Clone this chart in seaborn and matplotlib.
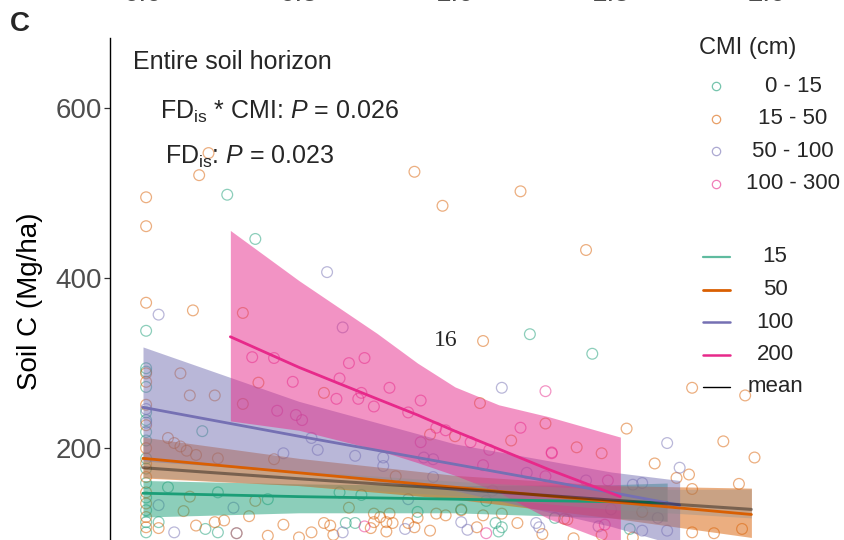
import matplotlib
matplotlib.use("Agg")
import matplotlib.pyplot as plt
from matplotlib.lines import Line2D
import numpy as np
import pandas as pd
import seaborn as sns

# ---------------- data ----------------
cmi_classes = ["0 - 15", "15 - 50", "50 - 100", "100 - 300"]
class_colors = ["#1B9E77", "#D95F02", "#7570B3", "#E7298A"]

# observations per CMI class: FDis and soil C (Mg/ha)
g_fd = [0.01, 0.01, 0.01, 0.01, 0.01, 0.01, 0.01, 0.01, 0.01, 0.01, 0.01, 0.01, 0.01, 0.01, 0.01,
        0.27, 0.36, 0.19, 0.08, 0.24, 0.05, 0.20, 0.24, 0.63, 1.24, 1.44, 1.02, 1.13, 1.15, 1.14,
        1.32, 0.65, 0.68, 0.70, 1.10, 1.56, 0.40, 0.88]
g_c = [338, 294, 290, 272, 242, 233, 219, 209, 188, 176, 159, 142, 127, 113, 101,
       498, 446, 220, 154, 148, 113, 105, 101, 148, 334, 311, 128, 112, 107, 102,
       118, 112, 112, 145, 138, 105, 140, 125]

o_fd = [0.21, 0.18, 0.01, 0.01, 0.01, 0.16, 0.32, 0.87, 0.96, 1.21, 1.42, 1.09, 1.76, 1.93, 1.55,
        1.29, 1.18, 1.39, 1.47, 1.08, 0.58, 0.32, 0.37, 0.81, 0.92, 1.64, 1.86, 1.96, 1.75, 1.71,
        1.91, 1.76, 1.00,
        0.01, 0.01, 0.01, 0.01, 0.01, 0.01, 0.01, 0.01, 0.01, 0.01, 0.01,
        0.12, 0.15, 0.23, 0.08, 0.10, 0.12, 0.14, 0.17, 0.24, 0.42, 0.13, 0.34, 0.05, 0.17, 0.23,
        0.26, 0.36, 0.15,
        0.74, 0.76, 0.79, 0.74, 0.78, 0.80, 0.85, 0.73, 0.78, 0.58, 0.60, 0.54, 0.61, 0.87, 0.92,
        0.94, 0.97, 1.02, 1.09, 1.15, 1.07, 1.36, 1.35, 1.28, 1.38, 1.57, 1.47, 1.76, 1.83, 1.92,
        0.30, 0.40, 0.45, 0.50, 1.60, 0.66, 0.88, 1.20]
o_c = [547, 521, 495, 461, 371, 362, 359, 525, 485, 502, 433, 326, 271, 262, 223,
       229, 209, 201, 194, 253, 265, 252, 277, 167, 216, 182, 208, 189, 169, 165,
       158, 152, 214,
       288, 278, 251, 227, 200, 182, 166, 148, 135, 119, 107,
       288, 262, 262, 212, 206, 202, 197, 192, 188, 187, 126, 120, 106, 109, 113,
       115, 138, 143,
       123, 119, 123, 113, 113, 112, 112, 106, 102, 112, 109, 101, 98, 107, 103,
       123, 121, 127, 121, 123, 107, 116, 117, 99, 94, 95, 98, 101, 100, 105,
       100, 97, 110, 95, 125, 130, 118, 112]

p_fd = [0.05, 0.59, 0.64, 1.15, 1.68, 1.72, 0.54, 0.56, 0.68, 0.77, 0.77, 0.90, 0.93, 0.93, 0.45,
        0.05, 0.29, 0.10, 1.04, 1.02, 1.26, 1.27, 1.46, 1.60, 1.68, 0.84, 0.64, 1.23, 1.42, 1.57,
        1.60, 0.01, 0.01, 0.30, 0.85, 1.12, 1.50, 1.65]
p_c = [357, 407, 342, 271, 206, 177, 212, 198, 191, 189, 179, 189, 187, 166, 194,
       133, 130, 101, 104, 113, 112, 107, 108, 103, 103, 105, 101, 171, 162, 157,
       159, 246, 230, 100, 140, 150, 128, 118]

k_fd = [0.66, 0.71, 0.63, 0.79, 0.62, 0.69, 0.70, 0.74, 0.89, 0.85, 0.51, 0.94, 0.97, 1.05, 0.89,
        1.11, 1.09, 0.42, 0.35, 0.48, 0.43, 0.49, 1.29, 1.48, 1.10, 1.21, 1.31, 1.31, 1.29, 1.49,
        0.71]
k_c = [300, 306, 282, 271, 258, 258, 265, 249, 256, 242, 233, 224, 221, 207, 207,
       198, 180, 306, 307, 278, 244, 239, 267, 110, 100, 224, 194, 195, 167, 162,
       108]

# model fits with confidence limits, per CMI level (cm)
fit_levels = ["15", "50", "100", "200"]
fit_colors = ["#1B9E77", "#D95F02", "#7570B3", "#E7298A"]

fd15 = [0.0, 0.5, 1.0, 1.5, 1.68]
fit15 = [147, 143, 140, 137, 136]
lo15 = [119, 124, 124, 118, 114]
hi15 = [162, 158, 156, 157, 159]

fd50 = [0.0, 0.5, 1.0, 1.5, 1.95]
fit50 = [188, 171, 154, 137, 122]
lo50 = [165, 156, 140, 118, 95]
hi50 = [213, 188, 168, 156, 153]

fd100 = [0.0, 0.5, 1.0, 1.5, 1.72]
fit100 = [248, 214, 181, 148, 133]
lo100 = [185, 172, 150, 108, 85]
hi100 = [319, 255, 205, 172, 162]

fd200 = [0.28, 0.5, 0.75, 0.88, 1.0, 1.14, 1.3, 1.53]
fit200 = [331, 295, 258, 239, 220, 199, 175, 143]
lo200 = [232, 221, 198, 183, 168, 148, 117, 85]
hi200 = [456, 397, 335, 300, 272, 251, 237, 213]

fd_mean = [0.0, 0.5, 1.0, 1.5, 1.95]
fit_mean = [177, 164, 152, 139, 128]
lo_mean = [166, 156, 144, 128, 118]
hi_mean = [189, 173, 161, 151, 152]

top_ticks = ["0.0", "0.5", "1.0", "1.5", "2.0"]
top_tick_pos = [0.0, 0.5, 1.0, 1.5, 2.0]

# ---------------- tables ----------------
obs = pd.concat([
    pd.DataFrame({"FDis": g_fd, "SoilC": g_c, "CMI": cmi_classes[0]}),
    pd.DataFrame({"FDis": o_fd, "SoilC": o_c, "CMI": cmi_classes[1]}),
    pd.DataFrame({"FDis": p_fd, "SoilC": p_c, "CMI": cmi_classes[2]}),
    pd.DataFrame({"FDis": k_fd, "SoilC": k_c, "CMI": cmi_classes[3]}),
], ignore_index=True)

fits = pd.concat([
    pd.DataFrame({"FDis": x, "fit": f, "lo": l, "hi": h, "level": lev})
    for x, f, l, h, lev in [(fd15, fit15, lo15, hi15, "15"),
                            (fd50, fit50, lo50, hi50, "50"),
                            (fd100, fit100, lo100, hi100, "100"),
                            (fd200, fit200, lo200, hi200, "200")]
], ignore_index=True)
mean_fit = pd.DataFrame({"FDis": fd_mean, "fit": fit_mean, "lo": lo_mean, "hi": hi_mean})

# ---------------- style ----------------
sns.set_theme(style="white")
plt.rcParams["font.family"] = ["Liberation Sans", "DejaVu Sans"]
plt.rcParams["mathtext.fontset"] = "custom"
plt.rcParams["mathtext.rm"] = "Liberation Sans"
plt.rcParams["mathtext.it"] = "Liberation Sans:italic"
plt.rcParams["mathtext.bf"] = "Liberation Sans:bold"

W, H = 844, 540
fig = plt.figure(figsize=(W / 100, H / 100), dpi=100)
ax = fig.add_axes([110 / W, 0, (W - 110) / W, (H - 38) / H])

x_unit = 312.0  # pixels per FDis unit
ax.set_xlim(-33 / x_unit, (W - 143) / x_unit)
ax.set_ylim(92, 682.3)

# observations as open circles
sns.scatterplot(data=obs, x="FDis", y="SoilC", hue="CMI", hue_order=cmi_classes,
                palette=class_colors, s=60, linewidth=0.9, alpha=0.5,
                legend=False, ax=ax, zorder=1)
pts = ax.collections[-1]
pts.set_edgecolors(pts.get_facecolors())
pts.set_facecolors("none")

# confidence ribbons
for lev, col in zip(fit_levels, fit_colors):
    d = fits[fits["level"] == lev]
    ax.fill_between(d["FDis"], d["lo"], d["hi"], color=col, alpha=0.5, lw=0, zorder=2)
ax.fill_between(mean_fit["FDis"], mean_fit["lo"], mean_fit["hi"], color="#8c8c8c",
                alpha=0.35, lw=0, zorder=2)

# fitted lines
sns.lineplot(data=fits, x="FDis", y="fit", hue="level", hue_order=fit_levels,
             palette=fit_colors, lw=2.0, legend=False, ax=ax, zorder=3, sort=False)
sns.lineplot(data=mean_fit, x="FDis", y="fit", color="black", alpha=0.4, lw=2.2,
             legend=False, ax=ax, zorder=3)

# axes cosmetics
for side in ["top", "right", "bottom"]:
    ax.spines[side].set_visible(False)
ax.spines["left"].set_color("black")
ax.spines["left"].set_linewidth(1.0)
ax.set_xticks([])
ax.set_yticks([200, 400, 600])
ax.tick_params(axis="y", length=4, width=0.9, color="#333333", labelsize=20,
               labelcolor="#4D4D4D", pad=2, left=True)
ax.set_xlabel("")
ax.set_ylabel("")
ax.patch.set_alpha(0)

fig.text(30 / W, 1 - 301 / H, "Soil C (Mg/ha)", rotation=90, ha="center", va="center",
         fontsize=20, color="black")
fig.text(10 / W, 1 - 24 / H, "C", fontsize=20, fontweight="bold", ha="left", va="center")

# tick labels of the panel above, cut by the top edge
for lab, pos in zip(top_ticks, top_tick_pos):
    fig.text((143 + pos * x_unit) / W, 1 + 6 / H, lab, ha="center", va="center",
             fontsize=20, color="#4D4D4D")

# annotations
fig.text(133 / W, 1 - 62 / H, "Entire soil horizon", ha="left", va="center", fontsize=18)
fig.text(160 / W, 1 - 112 / H, r"FD$_{\mathrm{is}}$ * CMI: $\mathit{P}$ = 0.026",
         ha="left", va="center", fontsize=18)
fig.text(165 / W, 1 - 157 / H, r"FD$_{\mathrm{is}}$: $\mathit{P}$ = 0.023",
         ha="left", va="center", fontsize=18)
ax.text(0.97, 327, "16", ha="center", va="center", fontsize=17,
        family=["Liberation Serif", "DejaVu Serif"], zorder=5)

# legends
fig.text(699 / W, 1 - 48 / H, "CMI (cm)", ha="left", va="center", fontsize=17)
for i, (lab, col) in enumerate(zip(cmi_classes, class_colors)):
    yy = 1 - (86 + i * 32.6) / H
    fig.add_artist(Line2D([716 / W], [yy], marker="o", ms=6, mfc="none", mec=col,
                          mew=0.9, alpha=0.6, ls="none", transform=fig.transFigure))
    fig.text(793 / W, yy, lab, ha="center", va="center", fontsize=16)

line_labels = fit_levels + ["mean"]
line_cols = fit_colors + ["black"]
line_alpha = [0.7, 1, 1, 1, 1]
line_w = [1.6, 2.0, 1.8, 1.8, 1.0]
for i, (lab, col) in enumerate(zip(line_labels, line_cols)):
    yy = 1 - (257 + i * 32.5) / H
    fig.add_artist(Line2D([703 / W, 730 / W], [yy, yy], color=col, lw=line_w[i],
                          alpha=line_alpha[i], transform=fig.transFigure))
    fig.text(775 / W, yy, lab, ha="center", va="center", fontsize=16)

fig.savefig("out.png", dpi=100)
